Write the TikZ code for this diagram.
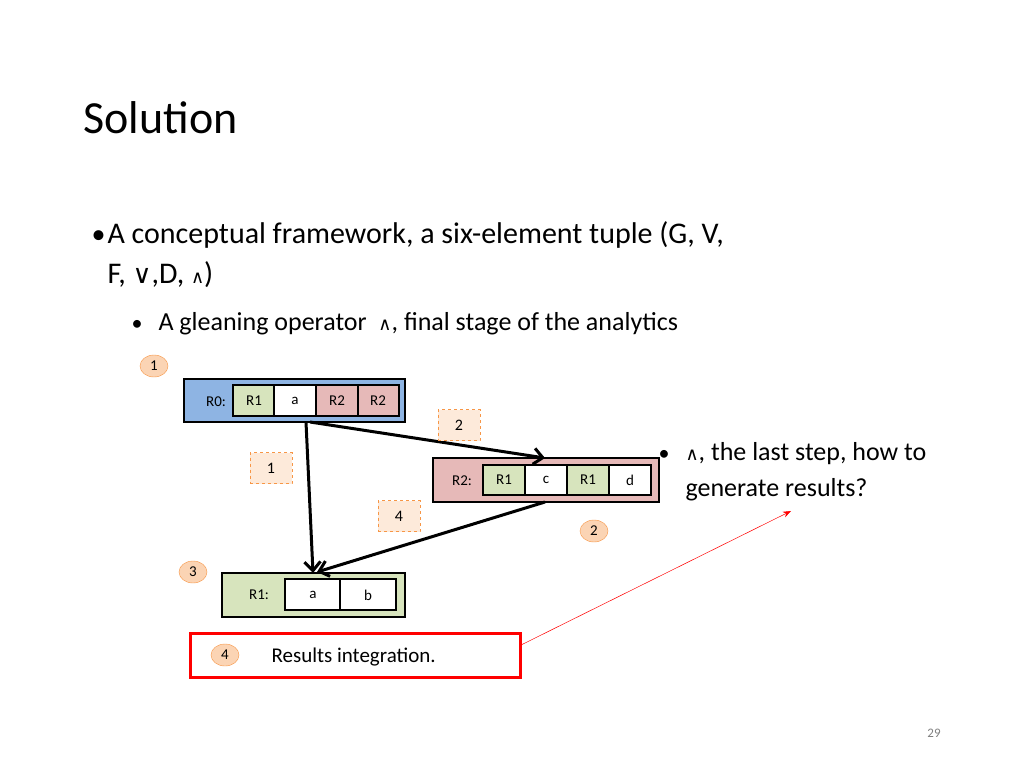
\documentclass[tikz,border=0pt]{standalone}
\usepackage{fontspec}
\setmainfont{Carlito}
\newfontfamily\symfont{DejaVu Sans}
\usetikzlibrary{arrows.meta, shapes.geometric}
\definecolor{rblue}{HTML}{8EB4E3}
\definecolor{rgreen}{HTML}{D7E4BD}
\definecolor{rpink}{HTML}{E6B9B8}
\definecolor{rorange}{HTML}{F79646}
\definecolor{rpeach}{HTML}{FBD4B4}
\definecolor{rdash}{HTML}{FDEADA}
\newcommand{\fs}[1]{\fontsize{#1}{1.2\dimexpr#1pt\relax}\selectfont}
\newcommand{\wedgesym}{{\symfont\fontsize{18}{20}\selectfont ∧}}
\newcommand{\veesym}{{\symfont\fontsize{26}{28}\selectfont ∨}}

\begin{document}
\begin{tikzpicture}[x=1pt, y=-1pt,
  outerbox/.style={draw, line width=2pt},
  cellbox/.style={draw, line width=1.6pt},
  celltext/.style={anchor=center, font=\fs{15}},
  numcircle/.style={ellipse, draw=rorange, fill=rpeach, inner sep=0pt, minimum width=28pt, minimum height=22pt, font=\fs{15}},
  dashbox/.style={draw=rorange, dashed, fill=rdash, minimum width=42pt, minimum height=31pt, font=\fs{16}},
  flow/.style={line width=3pt, -{Straight Barb[length=9pt, width=16pt]}}]
  \useasboundingbox (0,0) rectangle (1024,768);
  % title and bullets
  \node[anchor=base west, font=\fs{46}] (title) at (80,133) {Solution};
  \node[anchor=base west, font=\fs{28}] (b1) at (88,243) {•};
  \node[anchor=base west, font=\fs{30}] (t1) at (104,243) {A conceptual framework, a six-element tuple (G, V,};
  \node[anchor=base west, font=\fs{30}] (t1b) at (104,283) {F, \veesym,D, \wedgesym)};
  \node[anchor=base west, font=\fs{22}] (b2) at (128,330) {•};
  \node[anchor=base west, font=\fs{26}] (t2) at (155,330) {A gleaning operator \ \wedgesym, final stage of the analytics};
  \node[anchor=base west, font=\fs{22}] (b3) at (655,460) {•};
  \node[anchor=base west, font=\fs{26}] (t3) at (682,460) {\wedgesym, the last step, how to};
  \node[anchor=base west, font=\fs{26}] (t3b) at (682,496) {generate results?};
  \node[anchor=center, font=\fs{13}, text=gray] (page) at (934,733) {29};
  % R0
  \draw[outerbox, fill=rblue] (184,379) rectangle (405,422);
  \node[celltext] (r0lab) at (216,402) {R0:};
  \draw[cellbox, fill=rgreen] (233,385) rectangle (274,416);
  \draw[cellbox, fill=white] (274,385) rectangle (316,416);
  \draw[cellbox, fill=rpink] (316,385) rectangle (358,416);
  \draw[cellbox, fill=rpink] (358,385) rectangle (399,416);
  \node[celltext] (r0a) at (254,401) {R1};
  \node[celltext] (r0b) at (295,401) {a};
  \node[celltext] (r0c) at (337,401) {R2};
  \node[celltext] (r0d) at (378,401) {R2};
  % R2
  \draw[outerbox, fill=rpink] (433,458) rectangle (659,502);
  \node[celltext] (r2lab) at (462,481) {R2:};
  \draw[cellbox, fill=rgreen] (483,465) rectangle (525,495);
  \draw[cellbox, fill=white] (525,465) rectangle (567,495);
  \draw[cellbox, fill=rgreen] (567,465) rectangle (609,495);
  \draw[cellbox, fill=white] (609,465) rectangle (651,495);
  \node[celltext] (r2a) at (504,480) {R1};
  \node[celltext] (r2b) at (546,480) {c};
  \node[celltext] (r2c) at (588,480) {R1};
  \node[celltext] (r2d) at (630,480) {d};
  % R1
  \draw[outerbox, fill=rgreen] (222,573) rectangle (405,617);
  \node[celltext] (r1lab) at (259,595) {R1:};
  \draw[cellbox, fill=white] (285,579) rectangle (340,610);
  \draw[cellbox, fill=white] (340,579) rectangle (396,610);
  \node[celltext] (r1a) at (313,595) {a};
  \node[celltext] (r1b) at (368,595) {b};
  % connectors
  \coordinate (r0bot) at (306,422);
  \coordinate (r0bot2) at (310,422);
  \coordinate (r2top) at (545,458);
  \coordinate (r2bot) at (545,502);
  \coordinate (r1top) at (313,573);
  \coordinate (r1top2) at (317,572);
  \draw[flow] (r0bot) -- (r1top);
  \draw[flow] (r0bot2) -- (r2top);
  \draw[flow] (r2bot) -- (r1top2);
  % markers
  \node[numcircle] (c1) at (154,366) {1};
  \node[numcircle] (c2) at (594,531) {2};
  \node[numcircle] (c3) at (193,572) {3};
  \node[dashbox] (d2) at (459,425) {2};
  \node[dashbox] (d1) at (271,468) {1};
  \node[dashbox] (d4) at (399,516) {4};
  % results
  \draw[red, line width=3pt] (190,633) rectangle (520,677);
  \node[numcircle] (c4) at (225,655) {4};
  \node[anchor=base west, font=\fs{21}] (res) at (268,662) {Results integration.};
  \coordinate (redstart) at (521,645);
  \coordinate (redend) at (791,511);
  \draw[red, line width=0.5pt, -{Stealth[length=8pt]}] (redstart) -- (redend);
\end{tikzpicture}
\end{document}
